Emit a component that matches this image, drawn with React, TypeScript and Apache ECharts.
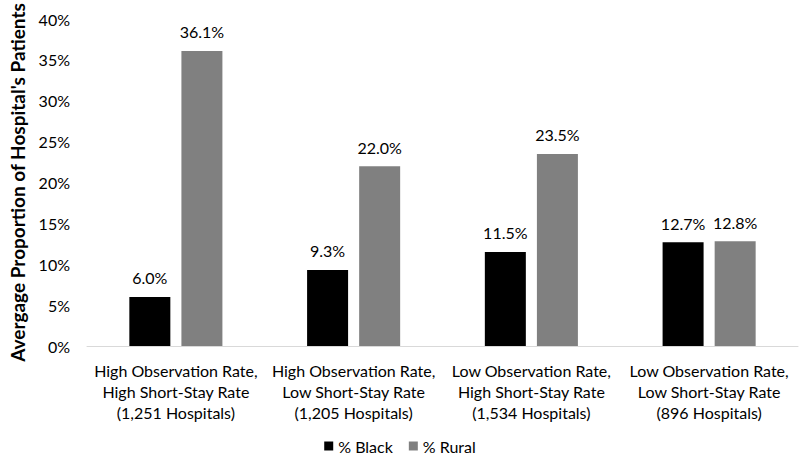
import React, { useEffect, useRef } from "react";
import * as echarts from "echarts";

const categories = [
  "High Observation Rate,\nHigh Short-Stay Rate\n(1,251 Hospitals)",
  "High Observation Rate,\nLow Short-Stay Rate\n(1,205 Hospitals)",
  "Low Observation Rate,\nHigh Short-Stay Rate\n(1,534 Hospitals)",
  "Low Observation Rate,\nLow Short-Stay Rate\n(896 Hospitals)",
];
const blackValues = [6.0, 9.3, 11.5, 12.7];
const ruralValues = [36.1, 22.0, 23.5, 12.8];
const seriesNames = ["% Black", "% Rural"];
const yAxisTitle = "Avergage Proportion of Hospital's Patients";

const FONT = "Lato, 'Open Sans', sans-serif";

export default function App() {
  const ref = useRef<HTMLDivElement>(null);
  useEffect(() => {
    if (!ref.current) return;
    const chart = echarts.init(ref.current, undefined, { renderer: "svg" });
    const labelStyle = {
      show: true,
      position: "top" as const,
      distance: 11,
      formatter: (p: any) => p.value.toFixed(1) + "%",
      color: "#000",
      fontSize: 16,
      fontFamily: FONT,
    };
    chart.setOption({
      animation: false,
      textStyle: { fontFamily: FONT },
      grid: { left: 75, right: 2, top: 9, bottom: 112, containLabel: false },
      legend: {
        bottom: -1,
        left: "center",
        itemWidth: 9,
        itemHeight: 9,
        itemGap: 16,
        icon: "rect",
        textStyle: { fontSize: 16, color: "#000", fontFamily: FONT },
        data: seriesNames,
      },
      xAxis: {
        type: "category",
        data: categories,
        axisLine: { lineStyle: { color: "#d9d9d9", width: 1 } },
        axisTick: { show: false },
        axisLabel: {
          color: "#000",
          fontSize: 16,
          lineHeight: 21,
          margin: 14,
          fontFamily: FONT,
          interval: 0,
        },
      },
      yAxis: {
        type: "value",
        min: 0,
        max: 40,
        interval: 5,
        name: yAxisTitle,
        nameLocation: "middle",
        nameGap: 60,
        nameTextStyle: { fontSize: 19, fontWeight: "bold", color: "#000", fontFamily: FONT },
        axisLabel: {
          formatter: "{value}%",
          color: "#000",
          fontSize: 16,
          margin: 17,
          fontFamily: FONT,
        },
        axisLine: { show: false },
        axisTick: { show: false },
        splitLine: { show: false },
      },
      series: [
        {
          name: seriesNames[0],
          type: "bar",
          data: blackValues,
          barWidth: 41,
          barGap: "27%",
          itemStyle: { color: "#000000" },
          label: labelStyle,
        },
        {
          name: seriesNames[1],
          type: "bar",
          data: ruralValues,
          barWidth: 41,
          itemStyle: { color: "#808080" },
          label: labelStyle,
        },
      ],
    });
    return () => chart.dispose();
  }, []);
  return (
    <div
      ref={ref}
      style={{ position: "absolute", left: 0, top: 0, width: 800, height: 458 }}
    />
  );
}
